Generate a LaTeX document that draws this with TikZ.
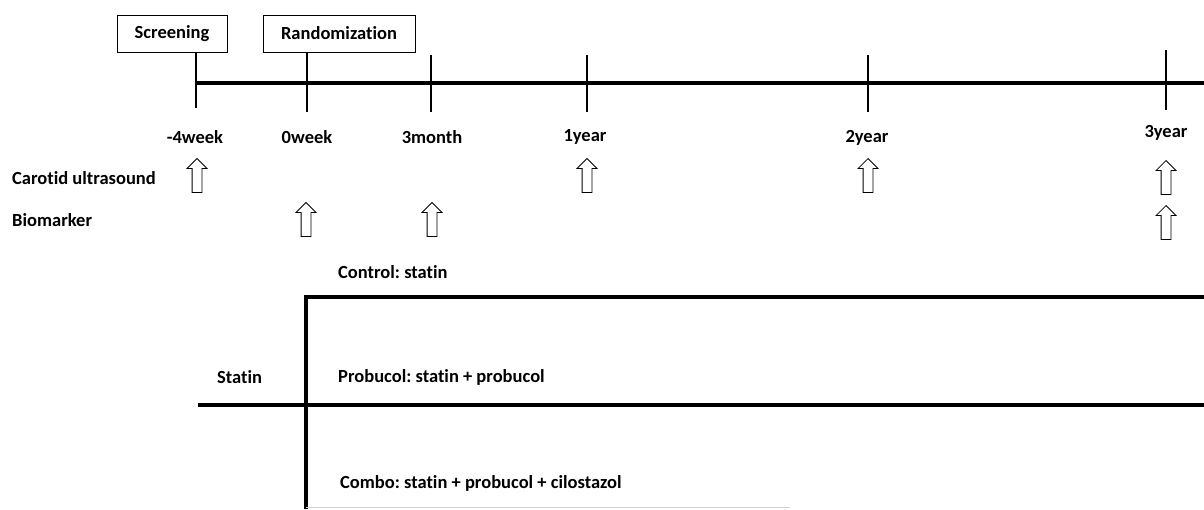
\documentclass[tikz,border=0pt]{standalone}
\usepackage{fontspec}
\setmainfont[Ligatures=NoCommon]{Carlito}
\frenchspacing
\usetikzlibrary{shapes.arrows}

\begin{document}
\begin{tikzpicture}[x=1pt,y=-1pt,
    lbl/.style={font=\bfseries\fontsize{18.5}{22}\selectfont,inner sep=0pt},
    box/.style={draw,line width=0.8pt,minimum height=37pt,font=\bfseries\fontsize{18.5}{22}\selectfont},
    thickline/.style={line width=4pt},
    tickline/.style={line width=1.1pt},
    uparrow/.style={draw,line width=0.8pt,single arrow,shape border rotate=90,
      minimum height=34pt,inner sep=4.5pt,single arrow head extend=5pt}]
    \useasboundingbox (0,0) rectangle (1204,509);
    % boxes
    \node[box,minimum width=110pt] (scr) at (172,33.5) {Screening};
    \node[box,minimum width=152pt] (rand) at (339,33.5) {Randomization};
    % timeline
    \coordinate (tls) at (196,83);
    \coordinate (tle) at (1204,83);
    \draw[thickline] (tls) -- (tle);
    \coordinate (t1a) at (196,52);   \coordinate (t1b) at (196,108);
    \coordinate (t2a) at (307,52);   \coordinate (t2b) at (307,112);
    \coordinate (t3a) at (431,55);   \coordinate (t3b) at (431,112);
    \coordinate (t4a) at (587,55);   \coordinate (t4b) at (587,112);
    \coordinate (t5a) at (868,55);   \coordinate (t5b) at (868,112);
    \coordinate (t6a) at (1166,50);  \coordinate (t6b) at (1166,110);
    \draw[tickline] (t1a) -- (t1b);
    \draw[tickline] (t2a) -- (t2b);
    \draw[tickline] (t3a) -- (t3b);
    \draw[tickline] (t4a) -- (t4b);
    \draw[tickline] (t5a) -- (t5b);
    \draw[tickline] (t6a) -- (t6b);
    \node[lbl] (m4w) at (195,137) {-4week};
    \node[lbl] (w0) at (307,137) {0week};
    \node[lbl] (m3) at (432,137) {3month};
    \node[lbl] (y1) at (585,137) {1year};
    \node[lbl] (y2) at (867,138) {2year};
    \node[lbl] (y3) at (1166,133) {3year};
    % measurements
    \node[lbl,anchor=west] (cus) at (12,178) {Carotid ultrasound};
    \node[lbl,anchor=west] (bio) at (12,220) {Biomarker};
    \node[uparrow] (cus1) at (197,178) {};
    \node[uparrow] (cus2) at (587,178) {};
    \node[uparrow] (cus3) at (868,178) {};
    \node[uparrow] (cus4) at (1166,180) {};
    \node[uparrow] (bio1) at (306,222) {};
    \node[uparrow] (bio2) at (432,222) {};
    \node[uparrow] (bio3) at (1166,225) {};
    % arms
    \node[lbl,anchor=west] (ctrl) at (338,272) {Control: statin};
    \node[lbl,anchor=west] (stat) at (217,377) {Statin};
    \node[lbl,anchor=west] (prob) at (338,377) {Probucol: statin + probucol};
    \node[lbl,anchor=west] (comb) at (340,483) {Combo: statin + probucol + cilostazol};
    \coordinate (ua) at (1204,297);
    \coordinate (uc) at (306,297);
    \coordinate (ub) at (306,509);
    \coordinate (sa) at (198,405);
    \coordinate (sb) at (1204,405);
    \draw[thickline] (ua) -- (uc) -- (ub);
    \draw[thickline] (sa) -- (sb);
    \draw[gray!35,line width=1pt] (306,507) -- (790,507);
\end{tikzpicture}
\end{document}
